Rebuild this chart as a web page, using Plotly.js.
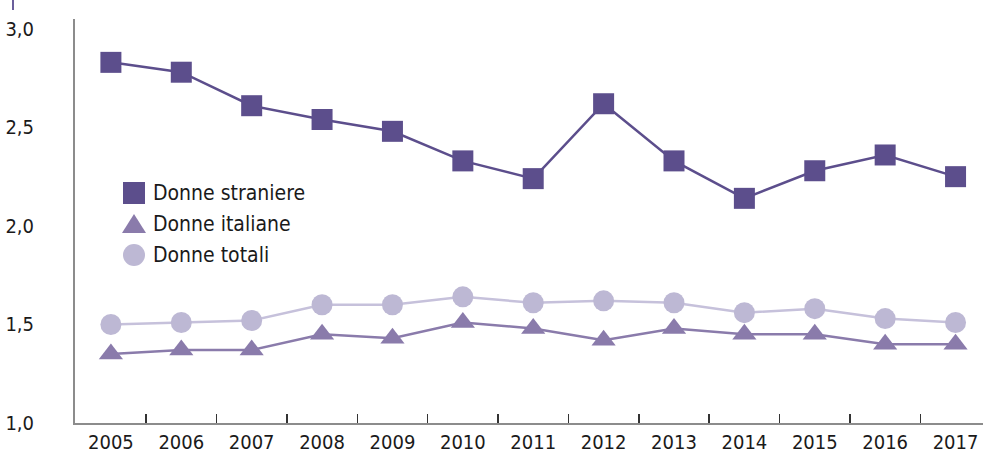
<!DOCTYPE html>
<html>
<head>
<meta charset="utf-8">
<script src="https://cdn.plot.ly/plotly-3.0.1.min.js"></script>
<style>
  html, body { margin: 0; padding: 0; background: #ffffff; }
  #chart { width: 983px; height: 454px; }
</style>
</head>
<body>
<div id="chart"></div>
<script>
// Numero medio di figli per donna, 2005-2017
const anni = ['2005','2006','2007','2008','2009','2010','2011','2012','2013','2014','2015','2016','2017'];
const donneStraniere = [2.83, 2.78, 2.61, 2.54, 2.48, 2.33, 2.24, 2.62, 2.33, 2.14, 2.28, 2.36, 2.25];
const donneItaliane  = [1.35, 1.37, 1.37, 1.45, 1.43, 1.51, 1.48, 1.42, 1.48, 1.45, 1.45, 1.40, 1.40];
const donneTotali    = [1.50, 1.51, 1.52, 1.60, 1.60, 1.64, 1.61, 1.62, 1.61, 1.56, 1.58, 1.53, 1.51];
const nomiSerie = ['Donne straniere', 'Donne italiane', 'Donne totali'];
const valoriY = [1.0, 1.5, 2.0, 2.5, 3.0];

const FONT = '"Liberation Sans Narrow", "DejaVu Sans Condensed", "Arial Narrow", sans-serif';
const C_STR = '#5c4e8c';
const C_ITA = '#8a7bab';
const C_TOT = '#bdb8d4';

// plot area in pixels
const W = 983, H = 454;
const M = { l: 75, r: 0, t: 19, b: 31 };
const PW = W - M.l - M.r, PH = H - M.t - M.b;
const px = x => (x - M.l) / PW;
const py = y => (H - M.b - y) / PH;

const traces = [
  {
    x: anni, y: donneTotali, name: nomiSerie[2], type: 'scatter', mode: 'lines+markers',
    line: { color: '#c6c1db', width: 2.5 },
    marker: { symbol: 'circle', size: 21, color: C_TOT },
    showlegend: false, hoverinfo: 'x+y'
  },
  {
    x: anni, y: donneItaliane, name: nomiSerie[1], type: 'scatter', mode: 'lines+markers',
    line: { color: C_ITA, width: 2.5 },
    marker: { symbol: 'triangle-up', size: 21, color: C_ITA },
    showlegend: false, hoverinfo: 'x+y'
  },
  {
    x: anni, y: donneStraniere, name: nomiSerie[0], type: 'scatter', mode: 'lines+markers',
    line: { color: C_STR, width: 2.5 },
    marker: { symbol: 'square', size: 21, color: C_STR },
    showlegend: false, hoverinfo: 'x+y'
  }
];

// hand-drawn key, symbol + label per series
const keyX = 134, keyY = [193, 224, 255], keyR = 11;
const shapes = [
  { type: 'rect', xref: 'paper', yref: 'paper',
    x0: px(keyX - keyR), x1: px(keyX + keyR), y0: py(keyY[0] + keyR), y1: py(keyY[0] - keyR),
    fillcolor: C_STR, line: { width: 0 } },
  { type: 'path', xref: 'paper', yref: 'paper',
    path: 'M ' + px(keyX - 12) + ' ' + py(keyY[1] + 9) + ' L ' + px(keyX + 12) + ' ' + py(keyY[1] + 9) +
          ' L ' + px(keyX) + ' ' + py(keyY[1] - 10) + ' Z',
    fillcolor: C_ITA, line: { width: 0 } },
  { type: 'circle', xref: 'paper', yref: 'paper',
    x0: px(keyX - keyR), x1: px(keyX + keyR), y0: py(keyY[2] + keyR), y1: py(keyY[2] - keyR),
    fillcolor: C_TOT, line: { width: 0 } },
  // small mark above the value scale
  { type: 'line', xref: 'paper', yref: 'paper',
    x0: px(13), x1: px(13), y0: py(0), y1: py(10),
    line: { color: '#6b5f9c', width: 2 } }
];

const annotations = nomiSerie.map((t, i) => ({
  text: t, xref: 'paper', yref: 'paper', x: px(151), y: py(keyY[i]),
  xanchor: 'left', yanchor: 'middle', showarrow: false,
  font: { family: FONT, size: 21, color: '#1a1a1a' }
}));

const layout = {
  width: W, height: H,
  margin: M,
  paper_bgcolor: '#ffffff', plot_bgcolor: '#ffffff',
  separators: ',.',
  showlegend: false,
  font: { family: FONT, size: 20, color: '#1a1a1a' },
  xaxis: {
    type: 'category',
    range: [-0.51, 12.39],
    showgrid: false, zeroline: false,
    showline: true, linecolor: '#8c8c8c', linewidth: 2,
    ticks: 'inside', tickson: 'boundaries', ticklen: 9, tickwidth: 1.5, tickcolor: '#333333',
    tickfont: { family: FONT, size: 20, color: '#1a1a1a' },
    ticklabelstandoff: 0,
    fixedrange: true
  },
  yaxis: {
    range: [1.0, 3.05],
    tickvals: valoriY, tickformat: '.1f',
    showgrid: false, zeroline: false,
    showline: true, linecolor: '#8c8c8c', linewidth: 2,
    ticks: '',
    tickfont: { family: FONT, size: 20, color: '#1a1a1a' },
    ticklabelstandoff: 35,
    fixedrange: true
  },
  shapes: shapes,
  annotations: annotations
};

Plotly.newPlot('chart', traces, layout, { displayModeBar: false, staticPlot: true });
</script>
</body>
</html>
